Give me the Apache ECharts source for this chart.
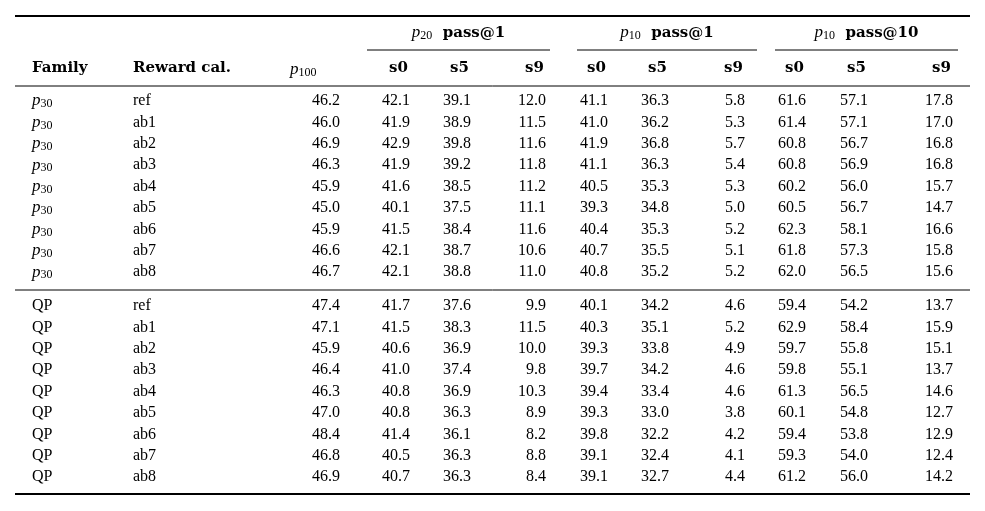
<!DOCTYPE html>
<html>
<head>
<meta charset="utf-8">
<script src="https://cdn.jsdelivr.net/npm/echarts@6/dist/echarts.min.js"></script>
<style>
  html, body { margin: 0; padding: 0; background: #fff; }
  #chart { width: 985px; height: 511px; }
</style>
</head>
<body>
<div id="chart"></div>
<script>
// table data
const rewardCal = ['ref', 'ab1', 'ab2', 'ab3', 'ab4', 'ab5', 'ab6', 'ab7', 'ab8'];
const families = ['p30', 'QP'];
const subHeaders = ['s0', 's5', 's9', 's0', 's5', 's9', 's0', 's5', 's9'];
const groupHeaders = [['20', 'pass@1'], ['10', 'pass@1'], ['10', 'pass@10']];

const p30P100   = [46.2, 46.0, 46.9, 46.3, 45.9, 45.0, 45.9, 46.6, 46.7];
const p30P20s0  = [42.1, 41.9, 42.9, 41.9, 41.6, 40.1, 41.5, 42.1, 42.1];
const p30P20s5  = [39.1, 38.9, 39.8, 39.2, 38.5, 37.5, 38.4, 38.7, 38.8];
const p30P20s9  = [12.0, 11.5, 11.6, 11.8, 11.2, 11.1, 11.6, 10.6, 11.0];
const p30P10s0  = [41.1, 41.0, 41.9, 41.1, 40.5, 39.3, 40.4, 40.7, 40.8];
const p30P10s5  = [36.3, 36.2, 36.8, 36.3, 35.3, 34.8, 35.3, 35.5, 35.2];
const p30P10s9  = [5.8, 5.3, 5.7, 5.4, 5.3, 5.0, 5.2, 5.1, 5.2];
const p30K10s0  = [61.6, 61.4, 60.8, 60.8, 60.2, 60.5, 62.3, 61.8, 62.0];
const p30K10s5  = [57.1, 57.1, 56.7, 56.9, 56.0, 56.7, 58.1, 57.3, 56.5];
const p30K10s9  = [17.8, 17.0, 16.8, 16.8, 15.7, 14.7, 16.6, 15.8, 15.6];

const qpP100    = [47.4, 47.1, 45.9, 46.4, 46.3, 47.0, 48.4, 46.8, 46.9];
const qpP20s0   = [41.7, 41.5, 40.6, 41.0, 40.8, 40.8, 41.4, 40.5, 40.7];
const qpP20s5   = [37.6, 38.3, 36.9, 37.4, 36.9, 36.3, 36.1, 36.3, 36.3];
const qpP20s9   = [9.9, 11.5, 10.0, 9.8, 10.3, 8.9, 8.2, 8.8, 8.4];
const qpP10s0   = [40.1, 40.3, 39.3, 39.7, 39.4, 39.3, 39.8, 39.1, 39.1];
const qpP10s5   = [34.2, 35.1, 33.8, 34.2, 33.4, 33.0, 32.2, 32.4, 32.7];
const qpP10s9   = [4.6, 5.2, 4.9, 4.6, 4.6, 3.8, 4.2, 4.1, 4.4];
const qpK10s0   = [59.4, 62.9, 59.7, 59.8, 61.3, 60.1, 59.4, 59.3, 61.2];
const qpK10s5   = [54.2, 58.4, 55.8, 55.1, 56.5, 54.8, 53.8, 54.0, 56.0];
const qpK10s9   = [13.7, 15.9, 15.1, 13.7, 14.6, 12.7, 12.9, 12.4, 14.2];

const blocks = [
  [p30P100, p30P20s0, p30P20s5, p30P20s9, p30P10s0, p30P10s5, p30P10s9, p30K10s0, p30K10s5, p30K10s9],
  [qpP100, qpP20s0, qpP20s5, qpP20s9, qpP10s0, qpP10s5, qpP10s9, qpK10s0, qpK10s5, qpK10s9]
];

// layout
const colRight = [340, 410, 471, 546, 608, 669, 745, 806, 868, 953];
const famX = 32, rewX = 133;
const blockTop = [101, 306], rowStep = 21.4;
const groupSpan = [[367, 550], [577, 757], [775, 958]];
const serif = '"Liberation Serif", serif';
const bodyFont = '16px ' + serif;
const headFont = 'bold 15px "DejaVu Serif", serif';

const cells = [];
function cell(x, y, text, align, font, rich) {
  cells.push({ value: [x, y], text, align, font: font || bodyFont, rich: rich || null });
}
const famRich = {
  i: { font: 'italic 17px ' + serif, fill: '#000' },
  sub: { font: '12px ' + serif, fill: '#000', verticalAlign: 'bottom', padding: [6, 0, 0, 0] },
  n: { font: '16px ' + serif, fill: '#000' }
};
const headRich = Object.assign({}, famRich, { b: { font: headFont, fill: '#000' } });

// header
groupHeaders.forEach((g, k) => {
  cell((groupSpan[k][0] + groupSpan[k][1]) / 2, 33, '{i|p}{sub|' + g[0] + '}{b|  ' + g[1] + '}', 'center', bodyFont, headRich);
});
cell(famX, 68, 'Family', 'left', headFont);
cell(rewX, 68, 'Reward cal.', 'left', headFont);
cell(colRight[0] - 50, 70, '{i|p}{sub|100}', 'left', bodyFont, famRich);
subHeaders.forEach((s, k) => cell(colRight[k + 1] - 2, 68, s, 'right', headFont));

// body
blocks.forEach((cols, b) => {
  rewardCal.forEach((r, i) => {
    const y = blockTop[b] + i * rowStep;
    if (families[b] === 'p30') cell(famX, y, '{i|p}{sub|30}', 'left', bodyFont, famRich);
    else cell(famX, y, families[b], 'left', bodyFont);
    cell(rewX, y, r, 'left', bodyFont);
    cols.forEach((arr, c) => cell(colRight[c], y, arr[i].toFixed(1), 'right', bodyFont));
  });
});

const rules = [
  [15, 16, 970, 16, 2],
  [groupSpan[0][0], 50, groupSpan[0][1], 50, 1],
  [groupSpan[1][0], 50, groupSpan[1][1], 50, 1],
  [groupSpan[2][0], 50, groupSpan[2][1], 50, 1],
  [15, 86, 970, 86, 1],
  [15, 290, 970, 290, 1],
  [15, 494, 970, 494, 2]
];

const chart = echarts.init(document.getElementById('chart'));
chart.setOption({
  animation: false,
  grid: { left: 0, right: 0, top: 0, bottom: 0 },
  xAxis: { type: 'value', min: 0, max: 985, show: false },
  yAxis: { type: 'value', min: 0, max: 511, inverse: true, show: false },
  series: [
    {
      type: 'custom',
      data: rules,
      renderItem: (params, api) => {
        const a = api.coord([api.value(0), api.value(1)]);
        const b = api.coord([api.value(2), api.value(3)]);
        return {
          type: 'line',
          shape: { x1: a[0], y1: a[1], x2: b[0], y2: b[1] },
          style: { stroke: '#000', lineWidth: api.value(4) }
        };
      }
    },
    {
      type: 'custom',
      data: cells.map(c => c.value),
      renderItem: (params, api) => {
        const c = cells[params.dataIndex];
        const p = api.coord([api.value(0), api.value(1)]);
        const style = {
          text: c.text, x: p[0], y: p[1], fill: '#000',
          font: c.font, align: c.align, verticalAlign: 'middle'
        };
        if (c.rich) style.rich = c.rich;
        return { type: 'text', style };
      }
    }
  ]
});
</script>
</body>
</html>
